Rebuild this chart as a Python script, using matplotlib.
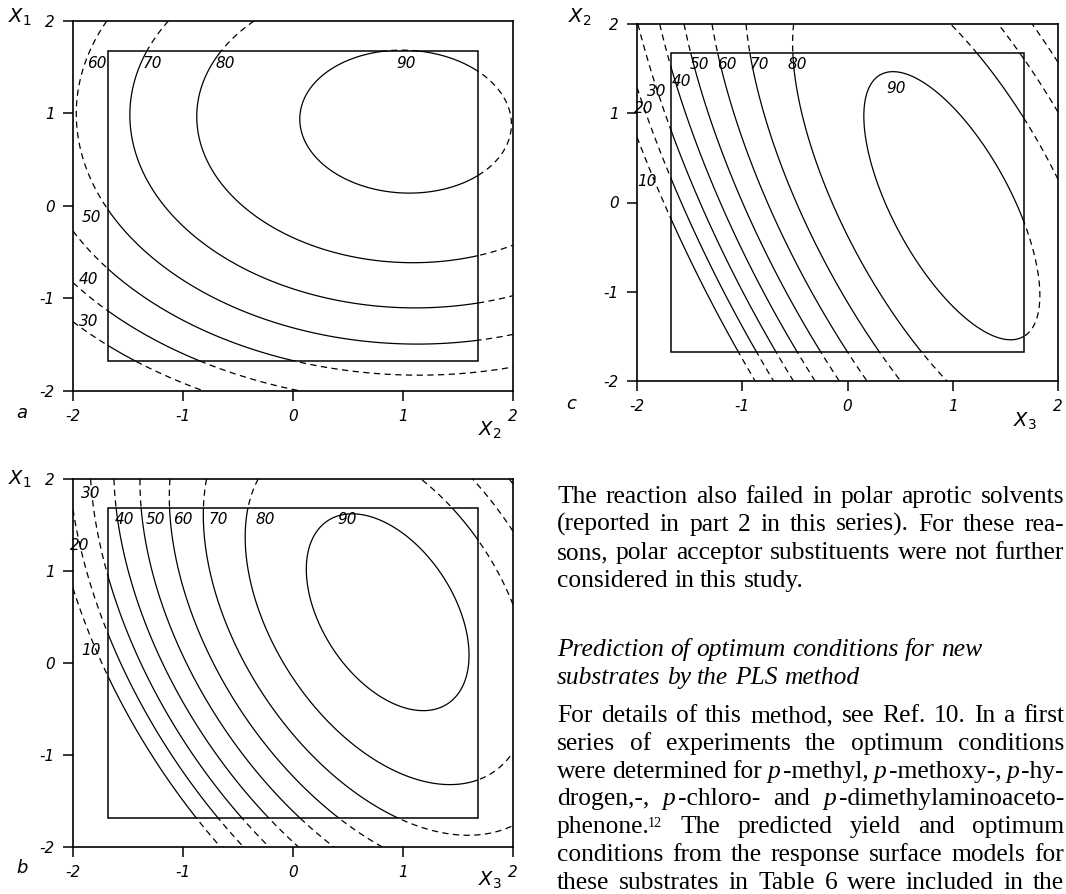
import re
import numpy as np
import matplotlib
matplotlib.use('Agg')
import matplotlib.pyplot as plt
from matplotlib.patches import Rectangle

plt.rcParams['font.family'] = ['DejaVu Sans']
plt.rcParams['lines.dashed_pattern'] = [4.5, 3.2]
plt.rcParams['lines.scale_dashes'] = False

# points: (horizontal, vertical, yield level)
# panel a : x2 across, x1 up
a_u = [1.054, 0.117, 1.023, 1.96, 1.687, 1.687, 0.378, 0.378,
       -0.697, -0.888, -0.697, -0.267, 1.008, 1.687, -0.36,
       -1.358, -1.527, -1.312, -0.82, 0.409, 1.687, -1.127,
       -1.674, -1.127, 0.10, 1.687, -1.80, -1.896,
       -1.674, 0.04, 1.0, 1.9, -2.0,
       -1.674, -0.882, 0.163, -2.0,
       -1.65, -1.435, -0.82, -2.0]
a_v = [1.665, 0.908, 0.151, 0.926, 1.52, 0.278, 1.395, 0.42,
       1.683, 1.034, 0.205, -0.227, -0.605, -0.551, 2.0,
       1.683, 1.016, 0.205, -0.587, -1.02, -1.074, 2.0,
       0.097, -0.84, -1.416, -1.47, 2.0, 1.142,
       -0.605, -1.676, -1.777, -1.7, -0.047,
       -1.128, -1.676, -2.0, -0.786,
       -1.506, -1.676, -1.986, -1.29]
a_z = [90]*8 + [80]*7 + [70]*7 + [60]*6 + [50]*5 + [40]*4 + [30]*4

# panel b : x3 across, x1 up
b_u = [0.494, 0.114, 0.281, 0.797, 1.19, 1.496, 1.60, 1.405, 0.949,
       -0.357, -0.27, -0.24, -0.025, 0.406, 0.797, 1.405, 1.663, 1.98, 1.162, 1.344, 1.663, 2.0,
       -0.76, -0.76, 1.01, 1.556, 1.98, 1.496, 1.663, 1.997,
       -1.10, -1.11, 0.382,
       -1.359, -1.37, 0.0,
       -1.647, -1.65, -0.249,
       -1.67, -1.815, -1.86, -0.486,
       -1.67, -1.966, -0.686,
       -1.67, -1.98, -0.888]
b_v = [1.662, 1.117, 0.39, -0.373, -0.572, -0.409, 0.1, 1.008, 1.517,
       1.68, 2.0, 0.605, 0.024, -0.521, -1.063, -1.335, -1.30, -0.92, 1.99, 1.717, 1.153, 0.43,
       1.68, 2.0, -1.68, -1.79, -1.626, 1.99, 1.66, 1.117,
       1.68, 2.0, -1.68,
       1.68, 2.0, -1.68,
       1.68, 2.0, -1.68,
       0.754, 1.735, 1.97, -1.68,
       0.336, 1.3, -1.68,
       -0.336, 0.79, -1.68]
b_z = [90]*9 + [80]*13 + [70]*8 + [60]*3 + [50]*3 + [40]*3 + [30]*4 + [20]*3 + [10]*3

# panel c : x3 across, x2 up
c_u = [0.454, 0.201, 0.332, 0.751, 1.186, 1.668, 1.87, 1.668, 1.435, 1.124, 0.844,
       -0.569, -0.553, 0.745, 1.0, 1.0, 1.186, 1.42, 1.659, 1.93,
       -0.924, -0.932, 0.285, 1.45, 1.62, 1.96,
       -1.244, -1.267, -0.05,
       -1.505, -1.532, -0.274,
       -1.686, -1.734, -0.5,
       -1.92, -1.68, -0.684,
       -1.68, -0.870,
       -1.68, -1.057]
c_v = [1.434, 1.021, 0.207, -0.79, -1.27, -1.587, -1.35, -0.126, 0.466, 1.021, 1.336,
       1.68, 2.0, -1.68, -2.0, 1.965, 1.695, 1.33, 0.98, 0.2,
       1.68, 2.0, -1.68, 1.98, 1.65, 0.95,
       1.68, 2.0, -1.68,
       1.68, 2.0, -1.68,
       1.68, 2.0, -1.68,
       2.0, 0.836, -1.68,
       0.17, -1.68,
       -0.33, -1.68]
c_z = [90]*11 + [80]*9 + [70]*6 + [60]*3 + [50]*3 + [40]*3 + [30]*3 + [20]*2 + [10]*2

a_levels = [30, 40, 50, 60, 70, 80, 90]
bc_levels = [10, 20, 30, 40, 50, 60, 70, 80, 90]

# how much the fit leans on each level (near the optimum matters most)
a_weight = {90: 3.0, 80: 1.8}
b_weight = {90: 5.0, 80: 2.0}
c_weight = {90: 5.0, 80: 3.0, 70: 2.0}

# contour label texts and where they sit
a_lab = [60, 70, 80, 90, 50, 40, 30]
a_lab_u = [-1.78, -1.28, -0.62, 1.03, -1.83, -1.86, -1.86]
a_lab_v = [1.54, 1.54, 1.54, 1.54, -0.12, -0.79, -1.25]
b_lab = [30, 20, 10, 40, 50, 60, 70, 80, 90]
b_lab_u = [-1.84, -1.935, -1.835, -1.53, -1.255, -1.0, -0.68, -0.255, 0.488]
b_lab_v = [1.84, 1.28, 0.14, 1.56, 1.56, 1.56, 1.56, 1.56, 1.555]
c_lab = [50, 60, 70, 80, 40, 30, 20, 10, 90]
c_lab_u = [-1.407, -1.144, -0.833, -0.475, -1.579, -1.81, -1.936, -1.905, 0.457]
c_lab_v = [1.546, 1.546, 1.546, 1.546, 1.354, 1.243, 1.058, 0.236, 1.28]

ticks = [-2, -1, 0, 1, 2]
tick_labels = ['-2', '-1', '0', '1', '2']

body1 = ["The reaction also failed in polar aprotic solvents",
         "(reported in part 2 in this series). For these rea-",
         "sons, polar acceptor substituents were not further",
         "considered in this study."]
heading = ["Prediction of optimum conditions for new",
           "substrates by the PLS method"]
body2 = ["For details of this method, see Ref. 10. In a first",
         "series of experiments the optimum conditions",
         "were determined for _p_-methyl, _p_-methoxy-, _p_-hy-",
         "drogen,-, _p_-chloro- and _p_-dimethylaminoaceto-",
         "phenone.^12^ The predicted yield and optimum",
         "conditions from the response surface models for",
         "these substrates in Table 6 were included in the"]

W, H = 1066, 894
fig = plt.figure(figsize=(W / 100, H / 100), dpi=100)


def px_axes(l, r, t, b):
    return fig.add_axes([l / W, 1 - b / H, (r - l) / W, (b - t) / H])


def fit_quadratic(u, v, z, weight):
    u = np.asarray(u, float)
    v = np.asarray(v, float)
    z = np.asarray(z, float)
    w = np.array([weight.get(int(k), 1.0) for k in z])
    A = np.column_stack([np.ones_like(u), u, v, u * u, v * v, u * v])
    return np.linalg.lstsq(A * w[:, None], z * w, rcond=None)[0]


def draw_panel(ax, u, v, z, weight, levels, lab, lab_u, lab_v):
    c = fit_quadratic(u, v, z, weight)
    g = np.linspace(-2, 2, 401)
    U, V = np.meshgrid(g, g)
    Z = c[0] + c[1] * U + c[2] * V + c[3] * U**2 + c[4] * V**2 + c[5] * U * V
    ax.contour(U, V, Z, levels=levels, colors='k', linewidths=0.9,
               linestyles='dashed', zorder=1)
    box = Rectangle((-1.68, -1.68), 3.36, 3.36, facecolor='white',
                    edgecolor='none', zorder=2)
    ax.add_patch(box)
    cs = ax.contour(U, V, Z, levels=levels, colors='k', linewidths=0.9, zorder=3)
    cs.set_clip_path(box)
    ax.add_patch(Rectangle((-1.68, -1.68), 3.36, 3.36, facecolor='none',
                           edgecolor='k', lw=1.1, zorder=4))
    for lv, x, y in zip(lab, lab_u, lab_v):
        ax.text(x, y, str(lv), ha='center', va='center', fontsize=11,
                fontstyle='italic', zorder=5)
    ax.set_xlim(-2, 2)
    ax.set_ylim(-2, 2)
    ax.set_xticks(ticks)
    ax.set_yticks(ticks)
    ax.set_xticklabels(tick_labels)
    ax.set_yticklabels(tick_labels)
    ax.tick_params(direction='out', length=7, width=1.1, pad=6, labelsize=11)
    for t in ax.get_xticklabels() + ax.get_yticklabels():
        t.set_fontstyle('italic')
    for s in ax.spines.values():
        s.set_linewidth(1.2)


ax_a = px_axes(73, 513, 21, 391)
draw_panel(ax_a, a_u, a_v, a_z, a_weight, a_levels, a_lab, a_lab_u, a_lab_v)
ax_b = px_axes(73, 513, 479, 847)
draw_panel(ax_b, b_u, b_v, b_z, b_weight, bc_levels, b_lab, b_lab_u, b_lab_v)
ax_c = px_axes(637, 1058, 24, 381)
draw_panel(ax_c, c_u, c_v, c_z, c_weight, bc_levels, c_lab, c_lab_u, c_lab_v)


def ftext(x, y, s, **kw):
    fig.text(x / W, 1 - y / H, s, **kw)


lab_kw = dict(ha='center', va='center', fontsize=14)
ftext(20, 17, '$X_1$', **lab_kw)
ftext(490, 430, '$X_2$', **lab_kw)
ftext(20, 479, '$X_1$', **lab_kw)
ftext(490, 880, '$X_3$', **lab_kw)
ftext(580, 17, '$X_2$', **lab_kw)
ftext(1025, 421, '$X_3$', **lab_kw)
let_kw = dict(ha='center', va='center', fontsize=13, fontstyle='italic')
ftext(22, 413, 'a', **let_kw)
ftext(22, 868, 'b', **let_kw)
ftext(571, 404, 'c', **let_kw)

# body text, justified to the column
X0, X1 = 557, 1064
BODY = 18.4
renderer = fig.canvas.get_renderer()


def style(kind, italic):
    size = BODY * 0.55 if kind == 'sup' else BODY
    st = 'italic' if (italic or kind == 'it') else 'normal'
    return dict(family='Liberation Serif', fontsize=size, fontstyle=st)


def text_width(s, **kw):
    t = fig.text(0, 0, s, **kw)
    w = t.get_window_extent(renderer=renderer).width
    t.remove()
    return w


def split_word(word):
    out = []
    for part in re.split(r'(_[^_]+_|\^[^^]+\^)', word):
        if not part:
            continue
        if part.startswith('_'):
            out.append((part[1:-1], 'it'))
        elif part.startswith('^'):
            out.append((part[1:-1], 'sup'))
        else:
            out.append((part, 'rm'))
    return out


def piece_w(s, k, italic):
    extra = 2.0 if k == 'it' and not italic else 0.0
    return text_width(s, **style(k, italic)) + extra


def set_line(line, y, justify=True, italic=False):
    words = [split_word(w) for w in line.split()]
    widths = [sum(piece_w(s, k, italic) for s, k in wd) for wd in words]
    if justify and len(words) > 1:
        gap = (X1 - X0 - sum(widths)) / (len(words) - 1)
    else:
        gap = BODY * 100 / 72 * 0.25
    x = X0
    for wd in words:
        for s, k in wd:
            st = style(k, italic)
            if k == 'sup':
                ftext(x - 2, y - 6, s, ha='left', va='baseline', **st)
            else:
                ftext(x, y, s, ha='left', va='baseline', **st)
            x += piece_w(s, k, italic)
        x += gap


for i, line in enumerate(body1):
    set_line(line, 503 + 28 * i, justify=(i < len(body1) - 1))
for i, line in enumerate(heading):
    set_line(line, 656 + 28 * i, justify=False, italic=True)
for i, line in enumerate(body2):
    set_line(line, 722 + 27.8 * i, justify=True)

fig.savefig('out.png', dpi=100)
